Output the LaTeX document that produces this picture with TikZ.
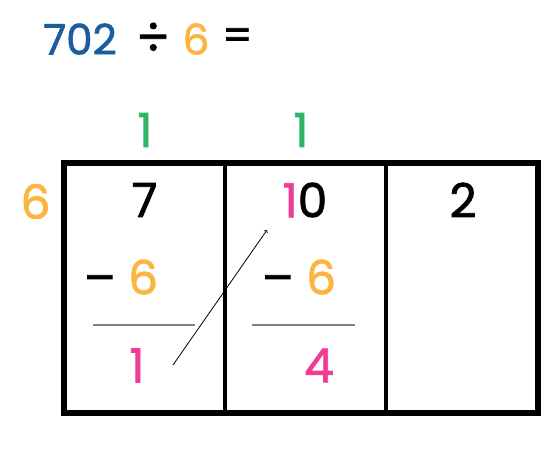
\documentclass[tikz,border=0pt]{standalone}
\usepackage{fontspec}
\setmainfont{Poppins}[FakeBold=1.6]
\definecolor{divblue}{HTML}{1B5E9E}
\definecolor{divorange}{HTML}{FBB540}
\definecolor{divgreen}{HTML}{2DB565}
\definecolor{divpink}{HTML}{EE3D96}
\tikzset{
  digit/.style={inner sep=0pt, font=\fontsize{47}{50}\selectfont},
  title/.style={inner sep=0pt, font=\fontsize{42}{46}\selectfont},
  rule/.style={gray, line width=1.5pt},
}

\begin{document}
\begin{tikzpicture}[x=1pt, y=-1pt]

  \useasboundingbox (0,0) rectangle (560,450);

  % --- Title ---
  \node[title, text=divblue] (dividend) at (80,39) {702};
  \node[title, scale=1.2] (divsign) at (153,39) {÷};
  \node[title, text=divorange] (divisor) at (196,39) {6};
  \node[title] (equals) at (237.5,39) {=};

  % --- Quotient ---
  \node[digit, text=divgreen] (qa) at (145,130) {1};
  \node[digit, text=divgreen] (qb) at (301,130) {1};

  % --- Divisor ---
  \node[digit, text=divorange] (six) at (35.5,201.5) {6};

  % --- Frame ---
  \draw[line width=6pt] (64,163) rectangle (538,413);
  \draw[line width=3.5pt] (225,163) -- (225,413);
  \draw[line width=3.5pt] (386,163) -- (386,413);

  % --- Top row ---
  \node[digit] (hund) at (144.5,200) {7};
  \node[digit] (tens) at (305,200) {\textcolor{divpink}{1}0};
  \node[digit] (ones) at (463,200) {2};

  % --- Subtractions ---
  \node[digit] (suba) at (121,277) {– \textcolor{divorange}{6}};
  \node[digit] (subb) at (299,277) {– \textcolor{divorange}{6}};
  \draw[rule] (93,325) -- (195,325);
  \draw[rule] (252,325) -- (355,325);

  % --- Remainders ---
  \node[digit, text=divpink] (rema) at (137,365.5) {1};
  \node[digit, text=divpink] (remb) at (319,365.5) {4};

  % --- Carry arrow ---
  \coordinate (from) at (173,365);
  \coordinate (to) at (267,230);
  \draw[->, line width=0.8pt] (from) -- (to);

\end{tikzpicture}
\end{document}
